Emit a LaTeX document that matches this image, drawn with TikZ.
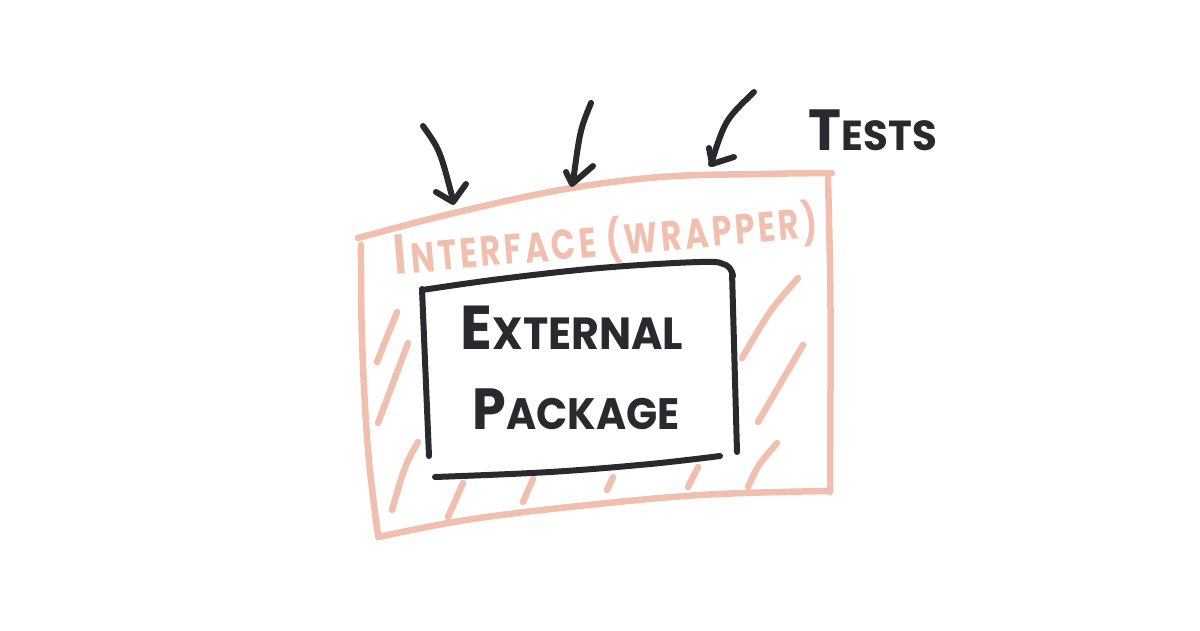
\documentclass[tikz,border=0pt]{standalone}
\usepackage{fontspec}
\setmainfont{Poppins}
\definecolor{pinkc}{HTML}{F1BFAF}
\definecolor{inkc}{HTML}{2A2A2E}
\begin{document}
\begin{tikzpicture}[x=1pt,y=-1pt,line cap=round,line join=round,
  pinkline/.style={draw=pinkc,line width=6.5pt},
  inkline/.style={draw=inkc,line width=6pt},
  lbl/.style={inner sep=0pt,anchor=base}]
\useasboundingbox (0,0) rectangle (1200,630);
% outer wrapper (pink)
\draw[pinkline] plot[smooth,tension=0.6] coordinates {(358,238) (450,214) (560,190) (660,177) (760,174) (832,173)};
\draw[pinkline] (828,178) .. controls (831,300) .. (830,492);
\draw[pinkline] plot[smooth,tension=0.6] coordinates {(830,491) (700,495) (560,508) (460,521) (378,537)};
\draw[pinkline] plot[smooth,tension=0.6] coordinates {(361,245) (362,340) (368,450) (378,535)};
% hatching
\draw[pinkline] (397,312) -- (377,362);
\draw[pinkline] (408,343) -- (378,423);
\draw[pinkline] (418,442) .. controls (405,465) .. (392,510);
\draw[pinkline] (463,483) -- (448,517);
\draw[pinkline] (533,479) -- (523,502);
\draw[pinkline] (613,477) -- (607,490);
\draw[pinkline] (698,467) -- (688,487);
\draw[pinkline] (798,278) .. controls (770,310) .. (742,358);
\draw[pinkline] (803,345) -- (758,422);
\draw[pinkline] (777,443) .. controls (758,465) .. (748,487);
% inner package box (black)
\draw[inkline] plot[smooth,tension=0.6] coordinates {(422,290) (500,279) (600,268) (700,262) (726,265) (733,276)};
\draw[inkline] (732,272) -- (737,452);
\draw[inkline] (422,289) -- (429,456);
\draw[inkline] plot[smooth,tension=0.6] coordinates {(435,477) (550,472) (650,464) (720,456)};
% arrows (tests)
\draw[inkline] (423,126) .. controls (440,150) .. (453,200);
\draw[inkline] (436,192) -- (453,202) -- (466,184);
\draw[inkline] (591,103) .. controls (580,130) .. (573,182);
\draw[inkline] (566,172) -- (572,184) -- (593,166);
\draw[inkline] (754,92) .. controls (725,120) .. (711,164);
\draw[inkline] (709,148) -- (712,164) -- (734,157);
% labels
\node[lbl,text=pinkc,rotate=5,xscale=0.76,font=\bfseries\fontsize{42}{42}\selectfont\addfontfeature{LetterSpace=10}] (iface) at (607,256)
  {{\fontsize{56}{56}\selectfont I}\kern6pt NTERFACE (WRAPPER)};
\node[lbl,text=inkc,xscale=0.95,font=\bfseries\fontsize{45}{45}\selectfont] (ext) at (572,349)
  {{\fontsize{62}{62}\selectfont E}XTERNAL};
\node[lbl,text=inkc,xscale=0.93,font=\bfseries\fontsize{44}{44}\selectfont] (pkg) at (576,429)
  {{\fontsize{58}{58}\selectfont P}ACKAGE};
\node[lbl,text=inkc,xscale=0.96,font=\bfseries\fontsize{42}{42}\selectfont] (tests) at (873,150)
  {{\fontsize{58}{58}\selectfont T}ESTS};
\end{tikzpicture}
\end{document}
